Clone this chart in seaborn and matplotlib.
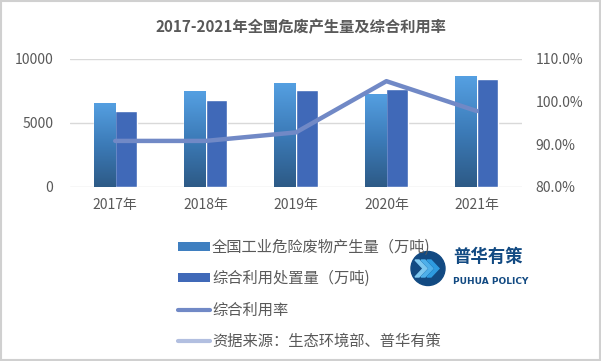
#!/usr/bin/env python3.12
# coding=utf-8

from matplotlib import pyplot as plt
from matplotlib.patches import Rectangle, Circle, Polygon
from matplotlib.lines import Line2D
from matplotlib.patches import Patch
import matplotlib.ticker as mticker
import pandas as pd
import seaborn as sns
import numpy as np

# data
years = ["2017年", "2018年", "2019年", "2020年", "2021年"]
produced = [6581, 7470, 8126, 7282, 8654]      # 万吨
utilized = [5972, 6789, 7539, 7630, 8461]      # 万吨
rate = [90.8, 90.8, 92.8, 104.8, 97.8]         # %

s_produced = "全国工业危险废物产生量（万吨)"
s_utilized = "综合利用处置量（万吨)"
s_rate = "综合利用率"
s_source = "资据来源：生态环境部、普华有策"
title = "2017-2021年全国危废产生量及综合利用率"

sns.set_theme(style="white")
plt.rcParams['font.family'] = ['Noto Sans CJK SC', 'DejaVu Sans']

grey = "#595959"
c_bar2 = "#4069b8"
c_line = "#7189c6"
c_src = "#b2bfe0"

df = pd.DataFrame({
    "year": years * 2,
    "value": produced + utilized,
    "series": [s_produced] * len(years) + [s_utilized] * len(years),
})

fig = plt.figure(figsize=(6.01, 3.61), dpi=100)
ax = fig.add_axes([0.1165, 0.482, 0.752, 0.3546])

sns.barplot(data=df, x="year", y="value", hue="series", ax=ax,
            palette=["#3f7fc0", c_bar2], width=0.48, gap=0,
            saturation=1, legend=False, zorder=3)

# gradient fill on the first series
grad = np.linspace(0, 1, 256).reshape(-1, 1)
cmap = sns.blend_palette(["#2d5a86", "#3c7bb8", "#55a0e2"], as_cmap=True)
xl, yl = ax.get_xlim(), (0, 10000)
for p in ax.patches[:len(years)]:
    x0, y0 = p.get_x(), p.get_y()
    w, h = p.get_width(), p.get_height()
    im = ax.imshow(grad, extent=[x0, x0 + w, 0, h], origin="lower",
                   cmap=cmap, aspect="auto", zorder=4)
    im.set_clip_path(p)
ax.set_xlim(xl)
ax.set_ylim(yl)
ax.set_yticks([0, 5000, 10000])
ax.yaxis.grid(True, color="#d9d9d9", lw=1)
ax.set_axisbelow(True)
for s in ax.spines.values():
    s.set_visible(False)
ax.set_xlabel("")
ax.set_ylabel("")
ax.tick_params(axis="both", length=0, labelsize=10, colors=grey, pad=8)
ax.tick_params(axis="y", pad=12)

ax2 = ax.twinx()
sns.pointplot(x=years, y=rate, ax=ax2, color=c_line, markers="",
              lw=3.2, zorder=5)
ax2.set_ylim(80, 110)
ax2.set_yticks([80, 90, 100, 110])
ax2.yaxis.set_major_formatter(mticker.FuncFormatter(lambda v, _: f"{v:.1f}%"))
for s in ax2.spines.values():
    s.set_visible(False)
ax2.tick_params(axis="y", length=0, labelsize=10, colors=grey, pad=10)
ax2.grid(False)
ax2.set_xlim(xl)

fig.text(0.5, 0.925, title, ha="center", va="center", fontsize=11,
         fontweight="bold", color=grey)

handles = [
    Patch(facecolor="#3f7fc0", edgecolor="none"),
    Patch(facecolor=c_bar2, edgecolor="none"),
    Line2D([], [], color=c_line, lw=3),
    Line2D([], [], color=c_src, lw=3),
]
fig.legend(handles, [s_produced, s_utilized, s_rate, s_source],
           loc="upper left", bbox_to_anchor=(0.283, 0.36), frameon=False,
           fontsize=11, labelcolor=grey, handlelength=2.1, handleheight=0.5,
           handletextpad=0.15, labelspacing=0.95, borderpad=0)

# logo
lax = fig.add_axes([385 / 601, 1 - 290 / 361, 86 / 601, 43 / 361])
lax.set_xlim(0, 86 * 1.0)
lax.set_ylim(0, 43)
lax.set_aspect("equal")
lax.axis("off")
lax.add_patch(Circle((43, 21.5), 17, color="#124a82"))
for dx, col in [(0, "#7ec8f0"), (6, "#4fb0ea"), (12, "#2e9be0")]:
    lax.add_patch(Polygon([(30 + dx, 30), (34 + dx, 30), (42 + dx, 21.5),
                           (34 + dx, 13), (30 + dx, 13), (38 + dx, 21.5)],
                          color=col))
fig.text(453 / 601, 1 - 257 / 361, "普华有策", fontsize=12.5,
         fontweight="bold", color="#124a82", va="center")
fig.text(453 / 601, 1 - 282 / 361, "PUHUA POLICY", fontsize=6.5,
         fontweight="bold", color="#124a82", va="center",
         family=["DejaVu Sans"])

# outer border
fig.add_artist(Rectangle((0.002, 0.003), 0.996, 0.994, transform=fig.transFigure,
                         fill=False, edgecolor="#d0d0d0", lw=1.5))

fig.savefig("out.png", dpi=100)
